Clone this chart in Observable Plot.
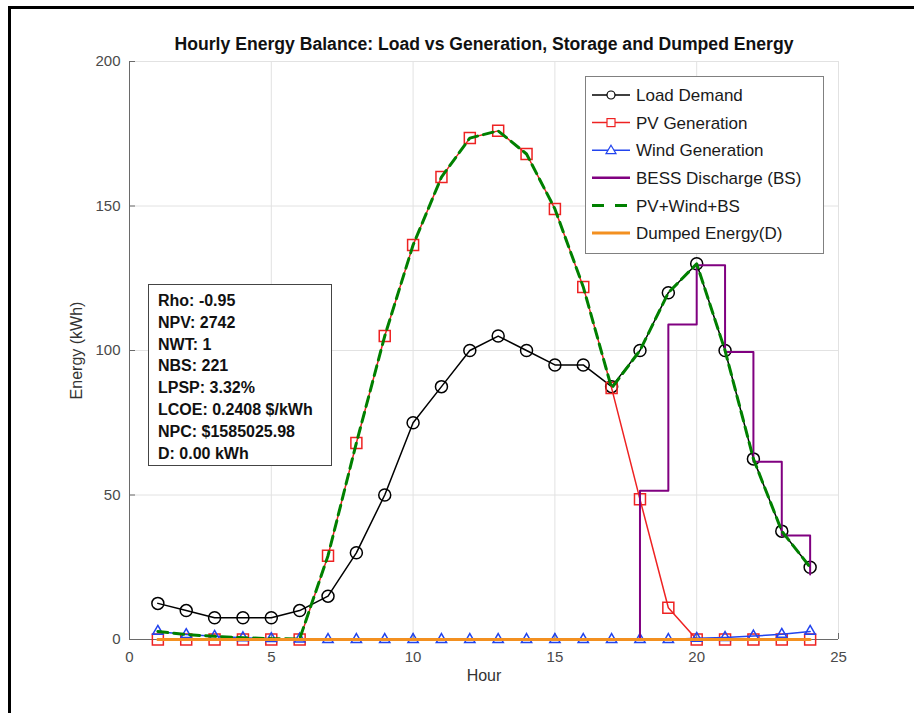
<!DOCTYPE html>
<html>
<head>
<meta charset="utf-8">
<script src="https://cdn.jsdelivr.net/npm/d3@7"></script>
<script src="https://cdn.jsdelivr.net/npm/@observablehq/plot@0.6"></script>
<style>
  html, body { margin: 0; padding: 0; background: #fff; overflow: hidden; }
  #wrap { position: relative; width: 914px; height: 713px; font-family: "Liberation Sans", Arial, sans-serif; }
  #frame { position: absolute; left: 8px; top: 6px; width: 1000px; height: 1000px; border: 3px solid #000; box-sizing: border-box; pointer-events: none; }
  #chart { position: absolute; left: 0; top: 0; }
  #stats { position: absolute; left: 148px; top: 284px; width: 184px; height: 182px; box-sizing: border-box;
           border: 1px solid #444; background: #fff; padding: 5px 0 0 9px; font-weight: bold; font-size: 16px;
           line-height: 21.8px; color: #111; white-space: nowrap; }
  #legend { position: absolute; left: 585px; top: 76px; }
</style>
</head>
<body>
<div id="wrap">
  <div id="chart"></div>
  <div id="stats"></div>
  <svg id="legend" width="240" height="178"></svg>
  <div id="frame"></div>
</div>
<script>
// Hours of the day
const hours = [1, 2, 3, 4, 5, 6, 7, 8, 9, 10, 11, 12, 13, 14, 15, 16, 17, 18, 19, 20, 21, 22, 23, 24];
// Hourly energy series (kWh)
const loadDemand = [12.5, 10, 7.5, 7.5, 7.5, 10, 15, 30, 50, 75, 87.5, 100, 105, 100, 95, 95, 87.5, 100, 120, 130, 100, 62.5, 37.5, 25];
const pvGeneration = [0, 0, 0, 0, 0, 0, 29, 68, 105, 136.5, 160, 173.5, 176, 168, 149, 122, 87, 48.5, 11, 0, 0, 0, 0, 0];
const windGeneration = [2.8, 1.7, 1.1, 0.6, 0.3, 0.2, 0, 0, 0, 0, 0, 0, 0, 0, 0, 0, 0, 0, 0, 0.4, 0.7, 1.2, 1.8, 2.8];
const bessDischarge = [0, 0, 0, 0, 0, 0, 0, 0, 0, 0, 0, 0, 0, 0, 0, 0, 0, 51.5, 109, 129.5, 99.5, 61.5, 36, 22.5];
const totalSupply = [2.8, 1.7, 1.1, 0.6, 0.3, 0.2, 29, 68, 105, 136.5, 160, 173.5, 176, 168, 149, 122, 87, 100, 120, 130, 100, 62.5, 37.5, 25];
const dumpedEnergy = [0, 0, 0, 0, 0, 0, 0, 0, 0, 0, 0, 0, 0, 0, 0, 0, 0, 0, 0, 0, 0, 0, 0, 0];

// Axis ticks
const xTicks = [0, 5, 10, 15, 20, 25];
const yTicks = [0, 50, 100, 150, 200];

// Summary statistics and legend entries
const statLines = ["Rho: -0.95", "NPV: 2742", "NWT: 1", "NBS: 221", "LPSP: 3.32%", "LCOE: 0.2408 $/kWh", "NPC: $1585025.98", "D: 0.00 kWh"];
const legendLabels = ["Load Demand", "PV Generation", "Wind Generation", "BESS Discharge (BS)", "PV+Wind+BS", "Dumped Energy(D)"];

const colors = {
  load: "#000000",
  pv: "#ee2222",
  wind: "#2244ee",
  bess: "#800080",
  total: "#008000",
  dumped: "#f39020"
};

const rows = hours.map((h, i) => ({
  hour: h,
  load: loadDemand[i],
  pv: pvGeneration[i],
  wind: windGeneration[i],
  bess: bessDischarge[i],
  total: totalSupply[i],
  dumped: dumpedEnergy[i]
}));

const W = 914, H = 713;
const mL = 129, mR = 76, mT = 61, mB = 74;
const frameW = W - mL - mR, frameH = H - mT - mB;

const chart = Plot.plot({
  width: W,
  height: H,
  marginLeft: mL,
  marginRight: mR,
  marginTop: mT,
  marginBottom: mB,
  style: { fontFamily: "Liberation Sans, Arial, sans-serif", fontSize: "15px", background: "transparent", overflow: "visible" },
  x: { domain: [0, 25] },
  y: { domain: [0, 200] },
  marks: [
    Plot.gridX(xTicks, { stroke: "#e2e2e2", strokeOpacity: 1 }),
    Plot.gridY(yTicks, { stroke: "#e2e2e2", strokeOpacity: 1 }),
    Plot.ruleX([0], { stroke: "#6a6a6a", strokeWidth: 1 }),
    Plot.ruleY([0], { stroke: "#6a6a6a", strokeWidth: 1 }),
    // inward tick marks
    Plot.tickY(yTicks, { y: d => d, stroke: "#6a6a6a", insetRight: frameW - 6 }),
    Plot.tickX(xTicks, { x: d => d, stroke: "#6a6a6a", insetTop: frameH - 6 }),
    Plot.axisX(xTicks, { tickSize: 0, tickPadding: 12, label: null, color: "#4a4a4a", fontSize: 15 }),
    Plot.axisY(yTicks, { tickSize: 0, tickPadding: 9, label: null, color: "#4a4a4a", fontSize: 15 }),
    // axis titles and chart title
    Plot.text(["Energy (kWh)"], { frameAnchor: "left", dx: -53, rotate: -90, textAnchor: "middle", fontSize: 16, fill: "#333" }),
    Plot.text(["Hour"], { frameAnchor: "bottom", dy: 41, textAnchor: "middle", fontSize: 16, fill: "#333" }),
    Plot.text(["Hourly Energy Balance: Load vs Generation, Storage and Dumped Energy"], { frameAnchor: "top", dy: -24, textAnchor: "middle", fontSize: 17.6, fontWeight: "bold", fill: "#111" }),
    // series
    Plot.line(rows, { x: "hour", y: "load", stroke: colors.load, strokeWidth: 1.5 }),
    Plot.dot(rows, { x: "hour", y: "load", symbol: "circle", r: 6, stroke: colors.load, fill: "none", strokeWidth: 1.5 }),
    Plot.line(rows, { x: "hour", y: "pv", stroke: colors.pv, strokeWidth: 1.5 }),
    Plot.dot(rows, { x: "hour", y: "pv", symbol: "square", r: 6.2, stroke: colors.pv, fill: "none", strokeWidth: 1.5 }),
    Plot.line(rows, { x: "hour", y: "wind", stroke: colors.wind, strokeWidth: 1.5 }),
    Plot.dot(rows, { x: "hour", y: "wind", symbol: "triangle", r: 3.8, stroke: colors.wind, fill: "none", strokeWidth: 1.5 }),
    Plot.line(rows, { x: "hour", y: "bess", curve: "step-after", stroke: colors.bess, strokeWidth: 2 }),
    Plot.line(rows, { x: "hour", y: "total", stroke: colors.total, strokeWidth: 3, strokeDasharray: "10,6" }),
    Plot.line(rows, { x: "hour", y: "dumped", stroke: colors.dumped, strokeWidth: 3 })
  ]
});
document.getElementById("chart").appendChild(chart);

// statistics box
const stats = document.getElementById("stats");
statLines.forEach(s => {
  const d = document.createElement("div");
  d.textContent = s;
  stats.appendChild(d);
});

// legend
const legend = d3.select("#legend");
legend.append("rect").attr("x", 0.5).attr("y", 0.5).attr("width", 238).attr("height", 177)
  .attr("fill", "#fff").attr("stroke", "#808080").attr("stroke-width", 1);
const styles = [
  { c: colors.load, w: 1.5, sym: "circle" },
  { c: colors.pv, w: 1.5, sym: "square" },
  { c: colors.wind, w: 1.5, sym: "triangle" },
  { c: colors.bess, w: 2.5 },
  { c: colors.total, w: 3, dash: "12,11" },
  { c: colors.dumped, w: 3 }
];
legendLabels.forEach((label, i) => {
  const y = 19 + i * 27.6;
  const st = styles[i];
  legend.append("line").attr("x1", 7).attr("x2", 45).attr("y1", y).attr("y2", y)
    .attr("stroke", st.c).attr("stroke-width", st.w).attr("stroke-dasharray", st.dash || null);
  if (st.sym === "circle") {
    legend.append("circle").attr("cx", 26).attr("cy", y).attr("r", 4).attr("fill", "#fff").attr("stroke", st.c).attr("stroke-width", 1.2);
  } else if (st.sym === "square") {
    legend.append("rect").attr("x", 22).attr("y", y - 4).attr("width", 8).attr("height", 8).attr("fill", "#fff").attr("stroke", st.c).attr("stroke-width", 1.2);
  } else if (st.sym === "triangle") {
    legend.append("path").attr("d", `M26,${y - 5}L31,${y + 3.5}L21,${y + 3.5}Z`).attr("fill", "#fff").attr("stroke", st.c).attr("stroke-width", 1.2);
  }
  legend.append("text").attr("x", 51).attr("y", y).attr("dy", "0.36em")
    .attr("font-size", 17).attr("fill", "#1a1a1a").attr("font-family", "Liberation Sans, Arial, sans-serif")
    .text(label);
});
</script>
</body>
</html>
